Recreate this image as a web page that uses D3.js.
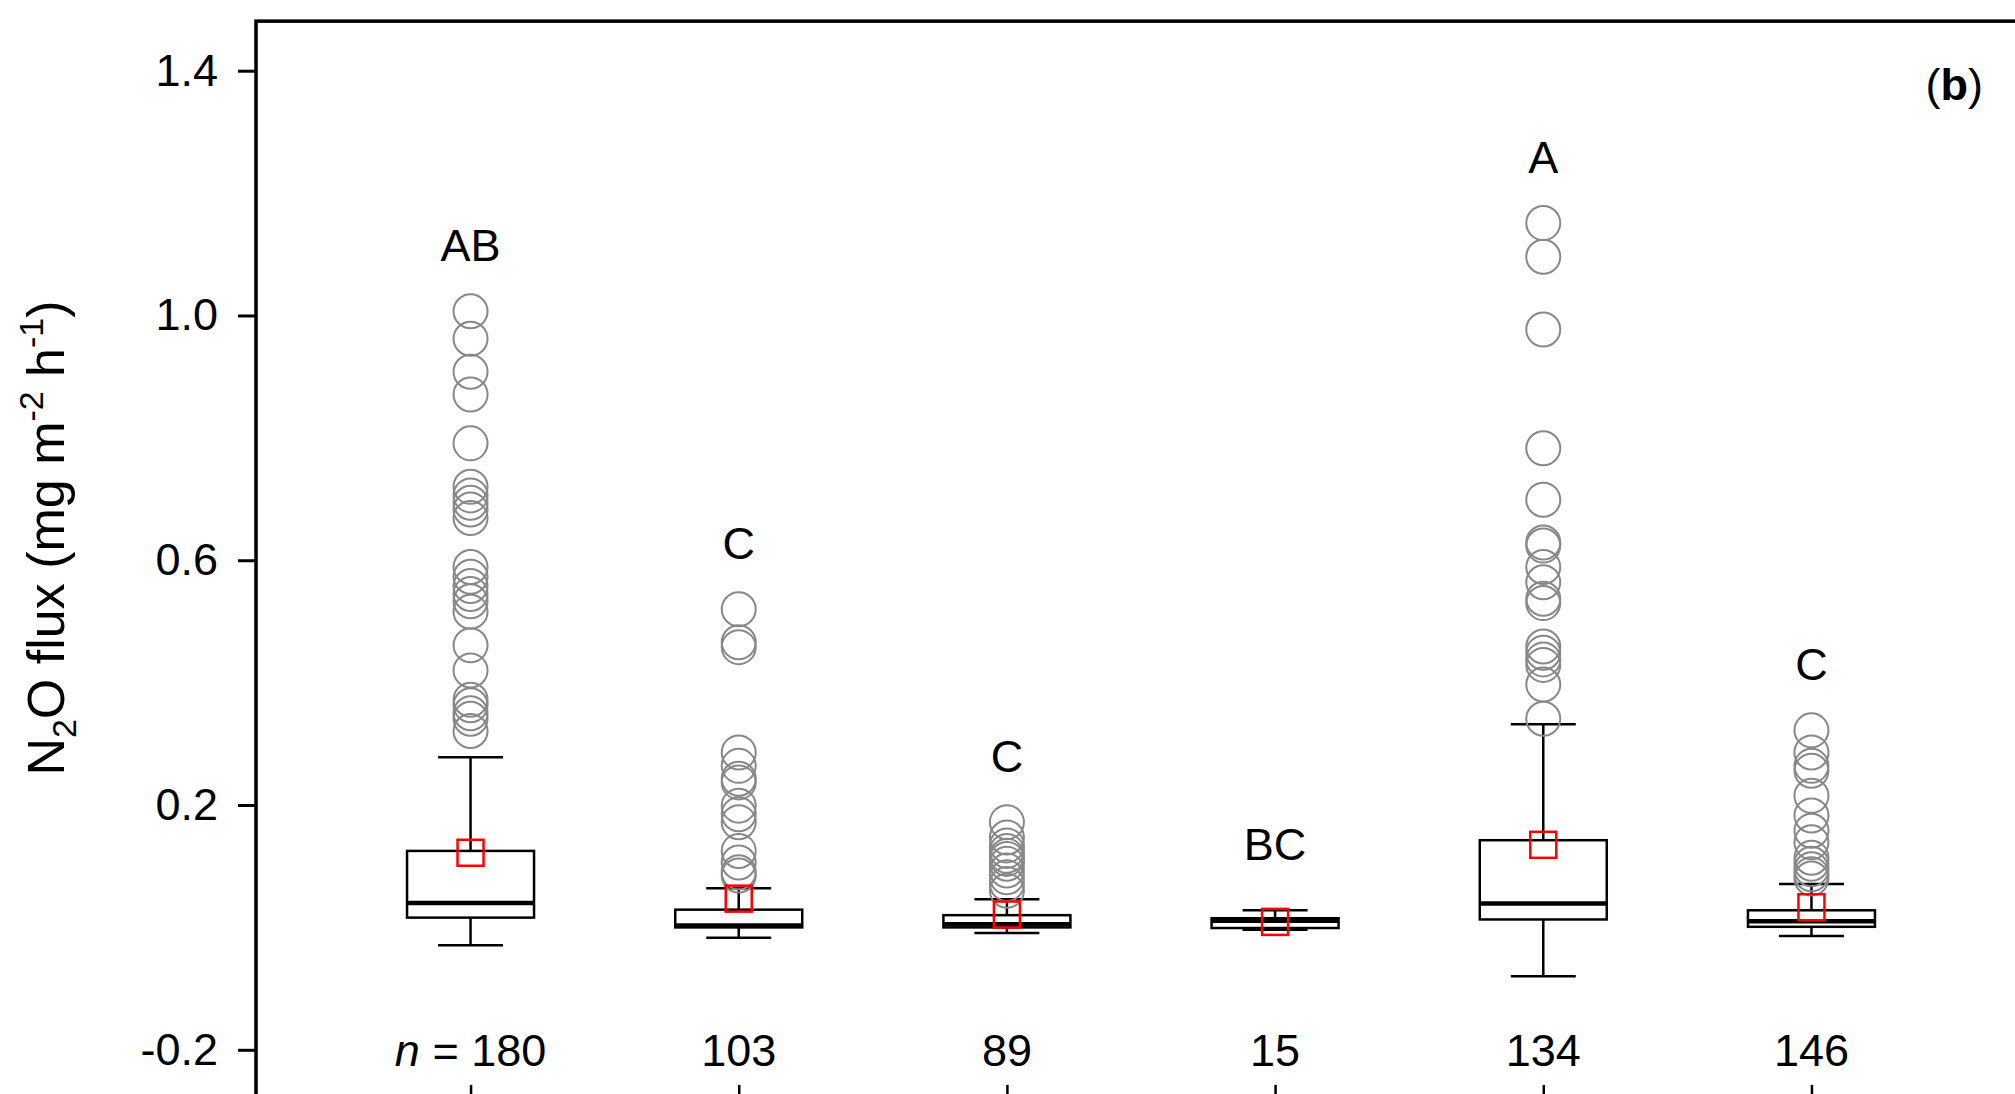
<!DOCTYPE html>
<html>
<head>
<meta charset="utf-8">
<script src="https://cdn.jsdelivr.net/npm/d3@7"></script>
<style>
  body { margin: 0; background: #fff; }
  text { font-family: "Liberation Sans", Arial, sans-serif; fill: #000; }
</style>
</head>
<body>
<script>
// data (N2O flux, mg m-2 h-1)
var nLabels = ['180', '103', '89', '15', '134', '146'];
var letters = ['AB', 'C', 'C', 'BC', 'A', 'C'];
var whiskerLow  = [-0.029, -0.017, -0.009, -0.004, -0.080, -0.014];
var q1          = [ 0.016,  0.000,  0.000, -0.001,  0.013,  0.001];
var median      = [ 0.040,  0.003,  0.005,  0.011,  0.039,  0.010];
var q3          = [ 0.125,  0.029,  0.020,  0.015,  0.1425, 0.028];
var whiskerHigh = [ 0.278,  0.064,  0.046,  0.028,  0.332,  0.071];
var means       = [ 0.122,  0.047,  0.021,  0.009,  0.135,  0.033];
var outliers = [
    [1.007, 0.962, 0.908, 0.871, 0.791, 0.720, 0.706, 0.694, 0.683, 0.669, 0.589, 0.573,
     0.558, 0.545, 0.533, 0.516, 0.461, 0.420, 0.372, 0.363, 0.350, 0.341, 0.321],
    [0.520, 0.466, 0.458, 0.286, 0.264, 0.243, 0.237, 0.199, 0.185, 0.172, 0.125, 0.106, 0.090, 0.085],
    [0.172, 0.147, 0.134, 0.125, 0.117, 0.112, 0.104, 0.093, 0.082, 0.071, 0.060],
    [],
    [1.151, 1.096, 0.977, 0.783, 0.699, 0.629, 0.624, 0.589, 0.564, 0.537, 0.530, 0.459,
     0.449, 0.438, 0.429, 0.397, 0.341],
    [0.322, 0.286, 0.264, 0.256, 0.215, 0.183, 0.158, 0.139, 0.114, 0.104, 0.095, 0.087, 0.080]
];
var yTicks = [-0.2, 0.2, 0.6, 1.0, 1.4];
var yTop = 1.481, yBottom = -0.29;

var width = 2015, height = 1094;

// set the ranges
var x = d3.scalePoint().domain(d3.range(nLabels.length)).range([256, 2026]).padding(0.8);
var y = d3.scaleLinear().domain([-0.2, 1.4]).range([1049.8, 70.7]);

var svg = d3.select('body')
    .append('svg')
    .attr('width', width)
    .attr('height', height);

var boxW = 127, capW = 65, sq = 26;

// one group per category
var groups = svg.selectAll('.box')
    .data(d3.range(nLabels.length))
    .enter().append('g')
    .attr('class', 'box')
    .attr('transform', function (i) { return 'translate(' + x(i) + ',0)'; });

// whiskers
groups.append('line')
    .attr('x1', 0).attr('x2', 0)
    .attr('y1', function (i) { return y(whiskerLow[i]); })
    .attr('y2', function (i) { return y(whiskerHigh[i]); })
    .style('stroke', '#000').style('stroke-width', 2.5);
groups.selectAll('.cap')
    .data(function (i) { return [whiskerLow[i], whiskerHigh[i]]; })
    .enter().append('line')
    .attr('class', 'cap')
    .attr('x1', -capW / 2).attr('x2', capW / 2)
    .attr('y1', function (d) { return y(d); })
    .attr('y2', function (d) { return y(d); })
    .style('stroke', '#000').style('stroke-width', 2.5);

// boxes
groups.append('rect')
    .attr('x', -boxW / 2)
    .attr('width', boxW)
    .attr('y', function (i) { return y(q3[i]); })
    .attr('height', function (i) { return y(q1[i]) - y(q3[i]); })
    .style('fill', '#fff')
    .style('stroke', '#000').style('stroke-width', 2.5);
groups.append('line')
    .attr('x1', -boxW / 2).attr('x2', boxW / 2)
    .attr('y1', function (i) { return y(median[i]); })
    .attr('y2', function (i) { return y(median[i]); })
    .style('stroke', '#000').style('stroke-width', 4.5);

// outliers
groups.selectAll('circle')
    .data(function (i) { return outliers[i]; })
    .enter().append('circle')
    .attr('cx', 0)
    .attr('cy', function (d) { return y(d); })
    .attr('r', 17)
    .style('fill', 'none')
    .style('stroke', '#888')
    .style('stroke-width', 2);

// mean as red square
groups.append('rect')
    .attr('x', -sq / 2)
    .attr('y', function (i) { return y(means[i]) - sq / 2; })
    .attr('width', sq).attr('height', sq)
    .style('fill', 'none')
    .style('stroke', '#f00').style('stroke-width', 2.5);

// significance letters above the highest point
groups.append('text')
    .attr('text-anchor', 'middle')
    .attr('y', function (i) {
        var top = d3.max(outliers[i].concat([whiskerHigh[i]]));
        return y(top) - 50;
    })
    .style('font-size', '45px')
    .text(function (i) { return letters[i]; });

// sample sizes at the -0.2 level
var nText = groups.append('text')
    .attr('text-anchor', 'middle')
    .attr('y', y(-0.2) + 16)
    .style('font-size', '45px');
nText.filter(function (i) { return i === 0; })
    .append('tspan').style('font-style', 'italic').text('n');
nText.append('tspan').text(function (i) { return i === 0 ? ' = ' + nLabels[i] : nLabels[i]; });

// frame
svg.append('rect')
    .attr('x', x.range()[0])
    .attr('y', y(yTop))
    .attr('width', x.range()[1] - x.range()[0])
    .attr('height', y(yBottom) - y(yTop))
    .style('fill', 'none')
    .style('stroke', '#000').style('stroke-width', 3.5);

// Add the Y Axis
var yAxis = svg.append('g')
    .attr('transform', 'translate(' + x.range()[0] + ',0)')
    .call(d3.axisLeft(y).tickValues(yTicks).tickSize(18).tickPadding(20)
        .tickFormat(function (d) { return d.toFixed(1); }));
yAxis.select('.domain').remove();
yAxis.selectAll('line').style('stroke-width', 3);
yAxis.selectAll('text')
    .style('font-size', '45px')
    .style('font-family', '"Liberation Sans", Arial, sans-serif');

// Add the X axis (inner ticks, no labels)
var xAxis = svg.append('g')
    .attr('transform', 'translate(0,' + y(yBottom) + ')')
    .call(d3.axisBottom(x).tickSize(-20).tickFormat(''));
xAxis.select('.domain').remove();
xAxis.selectAll('line').style('stroke-width', 2.5);

// y label
var yLab = svg.append('text')
    .attr('transform', 'translate(64,538) rotate(-90)')
    .attr('text-anchor', 'middle')
    .style('font-size', '52px');
yLab.append('tspan').text('N');
yLab.append('tspan').attr('dy', 12).style('font-size', '34px').text('2');
yLab.append('tspan').attr('dy', -12).text('O flux (mg m');
yLab.append('tspan').attr('dy', -21).style('font-size', '34px').text('-2');
yLab.append('tspan').attr('dy', 21).text(' h');
yLab.append('tspan').attr('dy', -21).style('font-size', '34px').text('-1');
yLab.append('tspan').attr('dy', 21).text(')');

// panel label
var panel = svg.append('text')
    .attr('x', 1983).attr('y', 100)
    .attr('text-anchor', 'end')
    .style('font-size', '45px');
panel.append('tspan').text('(');
panel.append('tspan').style('font-weight', 'bold').text('b');
panel.append('tspan').text(')');
</script>
</body>
</html>
